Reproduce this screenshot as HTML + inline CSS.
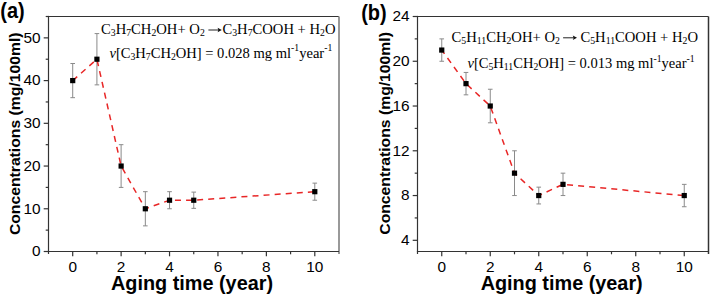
<!DOCTYPE html>
<html><head><meta charset="utf-8"><style>
html,body{margin:0;padding:0;background:#fff;width:711px;height:296px;overflow:hidden}
svg{display:block}
.tk{font-family:"Liberation Sans",sans-serif;font-size:15.4px;fill:#000}
.lab{font-family:"Liberation Sans",sans-serif;font-weight:bold;fill:#000}
.eq{font-family:"Liberation Serif",serif;font-size:15px;fill:#000}
</style></head><body>
<svg width="711" height="296" viewBox="0 0 711 296">
<line x1="48.5" y1="16.5" x2="339" y2="16.5" stroke="#333" stroke-width="1.2"/>
<line x1="339" y1="16.5" x2="339" y2="254.0" stroke="#999" stroke-width="2"/>
<line x1="48.5" y1="15.9" x2="48.5" y2="254.0" stroke="#333" stroke-width="1.2"/>
<line x1="47.9" y1="251.5" x2="339" y2="251.5" stroke="#333" stroke-width="1.2"/>
<line x1="72.70833333333333" y1="251.5" x2="72.70833333333333" y2="256.3" stroke="#333" stroke-width="1.2"/>
<text x="72.70833333333333" y="271.7" text-anchor="middle" class="tk">0</text>
<line x1="121.125" y1="251.5" x2="121.125" y2="256.3" stroke="#333" stroke-width="1.2"/>
<text x="121.125" y="271.7" text-anchor="middle" class="tk">2</text>
<line x1="169.54166666666669" y1="251.5" x2="169.54166666666669" y2="256.3" stroke="#333" stroke-width="1.2"/>
<text x="169.54166666666669" y="271.7" text-anchor="middle" class="tk">4</text>
<line x1="217.95833333333334" y1="251.5" x2="217.95833333333334" y2="256.3" stroke="#333" stroke-width="1.2"/>
<text x="217.95833333333334" y="271.7" text-anchor="middle" class="tk">6</text>
<line x1="266.375" y1="251.5" x2="266.375" y2="256.3" stroke="#333" stroke-width="1.2"/>
<text x="266.375" y="271.7" text-anchor="middle" class="tk">8</text>
<line x1="314.7916666666667" y1="251.5" x2="314.7916666666667" y2="256.3" stroke="#333" stroke-width="1.2"/>
<text x="314.7916666666667" y="271.7" text-anchor="middle" class="tk">10</text>
<line x1="96.91666666666666" y1="251.5" x2="96.91666666666666" y2="254.3" stroke="#333" stroke-width="1.2"/>
<line x1="145.33333333333331" y1="251.5" x2="145.33333333333331" y2="254.3" stroke="#333" stroke-width="1.2"/>
<line x1="193.75" y1="251.5" x2="193.75" y2="254.3" stroke="#333" stroke-width="1.2"/>
<line x1="242.16666666666666" y1="251.5" x2="242.16666666666666" y2="254.3" stroke="#333" stroke-width="1.2"/>
<line x1="290.58333333333337" y1="251.5" x2="290.58333333333337" y2="254.3" stroke="#333" stroke-width="1.2"/>
<line x1="43.7" y1="251.5" x2="48.5" y2="251.5" stroke="#333" stroke-width="1.2"/>
<text x="40.5" y="256.3" text-anchor="end" class="tk">0</text>
<line x1="43.7" y1="208.77272727272728" x2="48.5" y2="208.77272727272728" stroke="#333" stroke-width="1.2"/>
<text x="40.5" y="213.5727272727273" text-anchor="end" class="tk">10</text>
<line x1="43.7" y1="166.04545454545456" x2="48.5" y2="166.04545454545456" stroke="#333" stroke-width="1.2"/>
<text x="40.5" y="170.84545454545457" text-anchor="end" class="tk">20</text>
<line x1="43.7" y1="123.31818181818181" x2="48.5" y2="123.31818181818181" stroke="#333" stroke-width="1.2"/>
<text x="40.5" y="128.11818181818182" text-anchor="end" class="tk">30</text>
<line x1="43.7" y1="80.5909090909091" x2="48.5" y2="80.5909090909091" stroke="#333" stroke-width="1.2"/>
<text x="40.5" y="85.39090909090909" text-anchor="end" class="tk">40</text>
<line x1="43.7" y1="37.863636363636374" x2="48.5" y2="37.863636363636374" stroke="#333" stroke-width="1.2"/>
<text x="40.5" y="42.66363636363637" text-anchor="end" class="tk">50</text>
<line x1="45.7" y1="230.13636363636363" x2="48.5" y2="230.13636363636363" stroke="#333" stroke-width="1.2"/>
<line x1="45.7" y1="187.4090909090909" x2="48.5" y2="187.4090909090909" stroke="#333" stroke-width="1.2"/>
<line x1="45.7" y1="144.6818181818182" x2="48.5" y2="144.6818181818182" stroke="#333" stroke-width="1.2"/>
<line x1="45.7" y1="101.95454545454547" x2="48.5" y2="101.95454545454547" stroke="#333" stroke-width="1.2"/>
<line x1="45.7" y1="59.22727272727272" x2="48.5" y2="59.22727272727272" stroke="#333" stroke-width="1.2"/>
<line x1="45.7" y1="16.5" x2="48.5" y2="16.5" stroke="#333" stroke-width="1.2"/>
<line x1="72.71" y1="63.50" x2="72.71" y2="97.68" stroke="#8a8a8a" stroke-width="1"/>
<line x1="70.41" y1="63.50" x2="75.01" y2="63.50" stroke="#8a8a8a" stroke-width="1"/>
<line x1="70.41" y1="97.68" x2="75.01" y2="97.68" stroke="#8a8a8a" stroke-width="1"/>
<line x1="96.92" y1="33.59" x2="96.92" y2="84.86" stroke="#8a8a8a" stroke-width="1"/>
<line x1="94.62" y1="33.59" x2="99.22" y2="33.59" stroke="#8a8a8a" stroke-width="1"/>
<line x1="94.62" y1="84.86" x2="99.22" y2="84.86" stroke="#8a8a8a" stroke-width="1"/>
<line x1="121.12" y1="144.68" x2="121.12" y2="187.41" stroke="#8a8a8a" stroke-width="1"/>
<line x1="118.83" y1="144.68" x2="123.42" y2="144.68" stroke="#8a8a8a" stroke-width="1"/>
<line x1="118.83" y1="187.41" x2="123.42" y2="187.41" stroke="#8a8a8a" stroke-width="1"/>
<line x1="145.33" y1="191.68" x2="145.33" y2="225.86" stroke="#8a8a8a" stroke-width="1"/>
<line x1="143.03" y1="191.68" x2="147.63" y2="191.68" stroke="#8a8a8a" stroke-width="1"/>
<line x1="143.03" y1="225.86" x2="147.63" y2="225.86" stroke="#8a8a8a" stroke-width="1"/>
<line x1="169.54" y1="191.68" x2="169.54" y2="208.77" stroke="#8a8a8a" stroke-width="1"/>
<line x1="167.24" y1="191.68" x2="171.84" y2="191.68" stroke="#8a8a8a" stroke-width="1"/>
<line x1="167.24" y1="208.77" x2="171.84" y2="208.77" stroke="#8a8a8a" stroke-width="1"/>
<line x1="193.75" y1="192.11" x2="193.75" y2="208.35" stroke="#8a8a8a" stroke-width="1"/>
<line x1="191.45" y1="192.11" x2="196.05" y2="192.11" stroke="#8a8a8a" stroke-width="1"/>
<line x1="191.45" y1="208.35" x2="196.05" y2="208.35" stroke="#8a8a8a" stroke-width="1"/>
<line x1="314.79" y1="183.14" x2="314.79" y2="200.23" stroke="#8a8a8a" stroke-width="1"/>
<line x1="312.49" y1="183.14" x2="317.09" y2="183.14" stroke="#8a8a8a" stroke-width="1"/>
<line x1="312.49" y1="200.23" x2="317.09" y2="200.23" stroke="#8a8a8a" stroke-width="1"/>
<polyline points="72.71,80.59 96.92,59.23 121.12,166.05 145.33,208.77 169.54,200.23 193.75,200.23 314.79,191.68" fill="none" stroke="#e82626" stroke-width="1.5" stroke-dasharray="6 5.1" stroke-dashoffset="0"/>
<rect x="70.11" y="77.99" width="5.2" height="5.2" fill="#000"/>
<rect x="94.32" y="56.63" width="5.2" height="5.2" fill="#000"/>
<rect x="118.53" y="163.45" width="5.2" height="5.2" fill="#000"/>
<rect x="142.73" y="206.17" width="5.2" height="5.2" fill="#000"/>
<rect x="166.94" y="197.63" width="5.2" height="5.2" fill="#000"/>
<rect x="191.15" y="197.63" width="5.2" height="5.2" fill="#000"/>
<rect x="312.19" y="189.08" width="5.2" height="5.2" fill="#000"/>
<line x1="417.5" y1="16.5" x2="708.5" y2="16.5" stroke="#333" stroke-width="1.2"/>
<line x1="708.5" y1="16.5" x2="708.5" y2="254.0" stroke="#333" stroke-width="1.5"/>
<line x1="417.5" y1="15.9" x2="417.5" y2="254.0" stroke="#333" stroke-width="1.2"/>
<line x1="416.9" y1="251.5" x2="708.5" y2="251.5" stroke="#333" stroke-width="1.2"/>
<line x1="441.75" y1="251.5" x2="441.75" y2="256.3" stroke="#333" stroke-width="1.2"/>
<text x="441.75" y="271.7" text-anchor="middle" class="tk">0</text>
<line x1="490.25" y1="251.5" x2="490.25" y2="256.3" stroke="#333" stroke-width="1.2"/>
<text x="490.25" y="271.7" text-anchor="middle" class="tk">2</text>
<line x1="538.75" y1="251.5" x2="538.75" y2="256.3" stroke="#333" stroke-width="1.2"/>
<text x="538.75" y="271.7" text-anchor="middle" class="tk">4</text>
<line x1="587.25" y1="251.5" x2="587.25" y2="256.3" stroke="#333" stroke-width="1.2"/>
<text x="587.25" y="271.7" text-anchor="middle" class="tk">6</text>
<line x1="635.75" y1="251.5" x2="635.75" y2="256.3" stroke="#333" stroke-width="1.2"/>
<text x="635.75" y="271.7" text-anchor="middle" class="tk">8</text>
<line x1="684.25" y1="251.5" x2="684.25" y2="256.3" stroke="#333" stroke-width="1.2"/>
<text x="684.25" y="271.7" text-anchor="middle" class="tk">10</text>
<line x1="466.0" y1="251.5" x2="466.0" y2="254.3" stroke="#333" stroke-width="1.2"/>
<line x1="514.5" y1="251.5" x2="514.5" y2="254.3" stroke="#333" stroke-width="1.2"/>
<line x1="563.0" y1="251.5" x2="563.0" y2="254.3" stroke="#333" stroke-width="1.2"/>
<line x1="611.5" y1="251.5" x2="611.5" y2="254.3" stroke="#333" stroke-width="1.2"/>
<line x1="660.0" y1="251.5" x2="660.0" y2="254.3" stroke="#333" stroke-width="1.2"/>
<line x1="412.7" y1="240.3095238095238" x2="417.5" y2="240.3095238095238" stroke="#333" stroke-width="1.2"/>
<text x="409.5" y="245.1095238095238" text-anchor="end" class="tk">4</text>
<line x1="412.7" y1="195.54761904761904" x2="417.5" y2="195.54761904761904" stroke="#333" stroke-width="1.2"/>
<text x="409.5" y="200.34761904761905" text-anchor="end" class="tk">8</text>
<line x1="412.7" y1="150.78571428571428" x2="417.5" y2="150.78571428571428" stroke="#333" stroke-width="1.2"/>
<text x="409.5" y="155.5857142857143" text-anchor="end" class="tk">12</text>
<line x1="412.7" y1="106.02380952380952" x2="417.5" y2="106.02380952380952" stroke="#333" stroke-width="1.2"/>
<text x="409.5" y="110.82380952380952" text-anchor="end" class="tk">16</text>
<line x1="412.7" y1="61.26190476190476" x2="417.5" y2="61.26190476190476" stroke="#333" stroke-width="1.2"/>
<text x="409.5" y="66.06190476190476" text-anchor="end" class="tk">20</text>
<line x1="412.7" y1="16.5" x2="417.5" y2="16.5" stroke="#333" stroke-width="1.2"/>
<text x="409.5" y="21.3" text-anchor="end" class="tk">24</text>
<line x1="414.7" y1="217.92857142857144" x2="417.5" y2="217.92857142857144" stroke="#333" stroke-width="1.2"/>
<line x1="414.7" y1="173.16666666666669" x2="417.5" y2="173.16666666666669" stroke="#333" stroke-width="1.2"/>
<line x1="414.7" y1="128.4047619047619" x2="417.5" y2="128.4047619047619" stroke="#333" stroke-width="1.2"/>
<line x1="414.7" y1="83.64285714285714" x2="417.5" y2="83.64285714285714" stroke="#333" stroke-width="1.2"/>
<line x1="414.7" y1="38.88095238095238" x2="417.5" y2="38.88095238095238" stroke="#333" stroke-width="1.2"/>
<line x1="441.75" y1="38.88" x2="441.75" y2="61.26" stroke="#8a8a8a" stroke-width="1"/>
<line x1="439.45" y1="38.88" x2="444.05" y2="38.88" stroke="#8a8a8a" stroke-width="1"/>
<line x1="439.45" y1="61.26" x2="444.05" y2="61.26" stroke="#8a8a8a" stroke-width="1"/>
<line x1="466.00" y1="72.45" x2="466.00" y2="94.83" stroke="#8a8a8a" stroke-width="1"/>
<line x1="463.70" y1="72.45" x2="468.30" y2="72.45" stroke="#8a8a8a" stroke-width="1"/>
<line x1="463.70" y1="94.83" x2="468.30" y2="94.83" stroke="#8a8a8a" stroke-width="1"/>
<line x1="490.25" y1="89.24" x2="490.25" y2="122.81" stroke="#8a8a8a" stroke-width="1"/>
<line x1="487.95" y1="89.24" x2="492.55" y2="89.24" stroke="#8a8a8a" stroke-width="1"/>
<line x1="487.95" y1="122.81" x2="492.55" y2="122.81" stroke="#8a8a8a" stroke-width="1"/>
<line x1="514.50" y1="150.79" x2="514.50" y2="195.55" stroke="#8a8a8a" stroke-width="1"/>
<line x1="512.20" y1="150.79" x2="516.80" y2="150.79" stroke="#8a8a8a" stroke-width="1"/>
<line x1="512.20" y1="195.55" x2="516.80" y2="195.55" stroke="#8a8a8a" stroke-width="1"/>
<line x1="538.75" y1="187.15" x2="538.75" y2="203.94" stroke="#8a8a8a" stroke-width="1"/>
<line x1="536.45" y1="187.15" x2="541.05" y2="187.15" stroke="#8a8a8a" stroke-width="1"/>
<line x1="536.45" y1="203.94" x2="541.05" y2="203.94" stroke="#8a8a8a" stroke-width="1"/>
<line x1="563.00" y1="173.17" x2="563.00" y2="195.55" stroke="#8a8a8a" stroke-width="1"/>
<line x1="560.70" y1="173.17" x2="565.30" y2="173.17" stroke="#8a8a8a" stroke-width="1"/>
<line x1="560.70" y1="195.55" x2="565.30" y2="195.55" stroke="#8a8a8a" stroke-width="1"/>
<line x1="684.25" y1="184.36" x2="684.25" y2="206.74" stroke="#8a8a8a" stroke-width="1"/>
<line x1="681.95" y1="184.36" x2="686.55" y2="184.36" stroke="#8a8a8a" stroke-width="1"/>
<line x1="681.95" y1="206.74" x2="686.55" y2="206.74" stroke="#8a8a8a" stroke-width="1"/>
<polyline points="441.75,50.07 466.00,83.64 490.25,106.02 514.50,173.17 538.75,195.55 563.00,184.36 684.25,195.55" fill="none" stroke="#e82626" stroke-width="1.5" stroke-dasharray="6 5.1" stroke-dashoffset="1.3"/>
<rect x="439.15" y="47.47" width="5.2" height="5.2" fill="#000"/>
<rect x="463.40" y="81.04" width="5.2" height="5.2" fill="#000"/>
<rect x="487.65" y="103.42" width="5.2" height="5.2" fill="#000"/>
<rect x="511.90" y="170.57" width="5.2" height="5.2" fill="#000"/>
<rect x="536.15" y="192.95" width="5.2" height="5.2" fill="#000"/>
<rect x="560.40" y="181.76" width="5.2" height="5.2" fill="#000"/>
<rect x="681.65" y="192.95" width="5.2" height="5.2" fill="#000"/>
<g transform="translate(0.3,17.6) scale(0.93,1)"><text x="0" y="0" class="lab" style="font-size:21.5px">(a)</text></g>
<g transform="translate(361.2,20.1) scale(0.93,1)"><text x="0" y="0" class="lab" style="font-size:21.5px">(b)</text></g>
<g transform="translate(20.3,133.8) rotate(-90) scale(1.048,1)"><text x="0" y="0" class="lab" style="font-size:15px" text-anchor="middle">Concentrations (mg/100ml)</text></g>
<g transform="translate(390,133.4) rotate(-90) scale(1.048,1)"><text x="0" y="0" class="lab" style="font-size:15px" text-anchor="middle">Concentrations (mg/100ml)</text></g>
<text x="192" y="289.6" class="lab" style="font-size:19.85px" text-anchor="middle">Aging time (year)</text>
<text x="561.7" y="289.6" class="lab" style="font-size:19.85px" text-anchor="middle">Aging time (year)</text>
<g transform="translate(101,33.9) scale(0.976,1)"><text x="0" y="0" class="eq"><tspan dy="0">C</tspan><tspan dy="2" font-size="10">3</tspan><tspan dy="-2">H</tspan><tspan dy="2" font-size="10">7</tspan><tspan dy="-2">CH</tspan><tspan dy="2" font-size="10">2</tspan><tspan dy="-2">OH+ O</tspan><tspan dy="2" font-size="10">2</tspan></text></g>
<line x1="208.4" y1="30" x2="219.8" y2="30" stroke="#222" stroke-width="1"/><path d="M221.8,30 L217.60000000000002,27.7 Q219.20000000000002,30 217.60000000000002,32.3 Z" fill="#111"/>
<g transform="translate(222.5,33.9) scale(0.975,1)"><text x="0" y="0" class="eq"><tspan dy="0">C</tspan><tspan dy="2" font-size="10">3</tspan><tspan dy="-2">H</tspan><tspan dy="2" font-size="10">7</tspan><tspan dy="-2">COOH + H</tspan><tspan dy="2" font-size="10">2</tspan><tspan dy="-2">O</tspan></text></g>
<g transform="translate(109.5,57.8) scale(0.971,1)"><text x="0" y="0" class="eq"><tspan dy="0" font-style="italic">v</tspan><tspan dy="0">[C</tspan><tspan dy="2" font-size="10">3</tspan><tspan dy="-2">H</tspan><tspan dy="2" font-size="10">7</tspan><tspan dy="-2">CH</tspan><tspan dy="2" font-size="10">2</tspan><tspan dy="-2">OH] = 0.028 mg ml</tspan><tspan dy="-6.5" font-size="10">-1</tspan><tspan dy="6.5">year</tspan><tspan dy="-6.5" font-size="10">-1</tspan></text></g>
<g transform="translate(451.5,41.9) scale(0.977,1)"><text x="0" y="0" class="eq"><tspan dy="0">C</tspan><tspan dy="2" font-size="10">5</tspan><tspan dy="-2">H</tspan><tspan dy="2" font-size="10">11</tspan><tspan dy="-2">CH</tspan><tspan dy="2" font-size="10">2</tspan><tspan dy="-2">OH+ O</tspan><tspan dy="2" font-size="10">2</tspan></text></g>
<line x1="563.1" y1="37.8" x2="575" y2="37.8" stroke="#222" stroke-width="1"/><path d="M577,37.8 L572.8,35.5 Q574.4,37.8 572.8,40.099999999999994 Z" fill="#111"/>
<g transform="translate(580.5,41.9) scale(0.975,1)"><text x="0" y="0" class="eq"><tspan dy="0">C</tspan><tspan dy="2" font-size="10">5</tspan><tspan dy="-2">H</tspan><tspan dy="2" font-size="10">11</tspan><tspan dy="-2">COOH + H</tspan><tspan dy="2" font-size="10">2</tspan><tspan dy="-2">O</tspan></text></g>
<g transform="translate(467.5,68.1) scale(0.97,1)"><text x="0" y="0" class="eq"><tspan dy="0" font-style="italic">v</tspan><tspan dy="0">[C</tspan><tspan dy="2" font-size="10">5</tspan><tspan dy="-2">H</tspan><tspan dy="2" font-size="10">11</tspan><tspan dy="-2">CH</tspan><tspan dy="2" font-size="10">2</tspan><tspan dy="-2">OH] = 0.013 mg ml</tspan><tspan dy="-6.5" font-size="10">-1</tspan><tspan dy="6.5">year</tspan><tspan dy="-6.5" font-size="10">-1</tspan></text></g>
</svg>
</body></html>
